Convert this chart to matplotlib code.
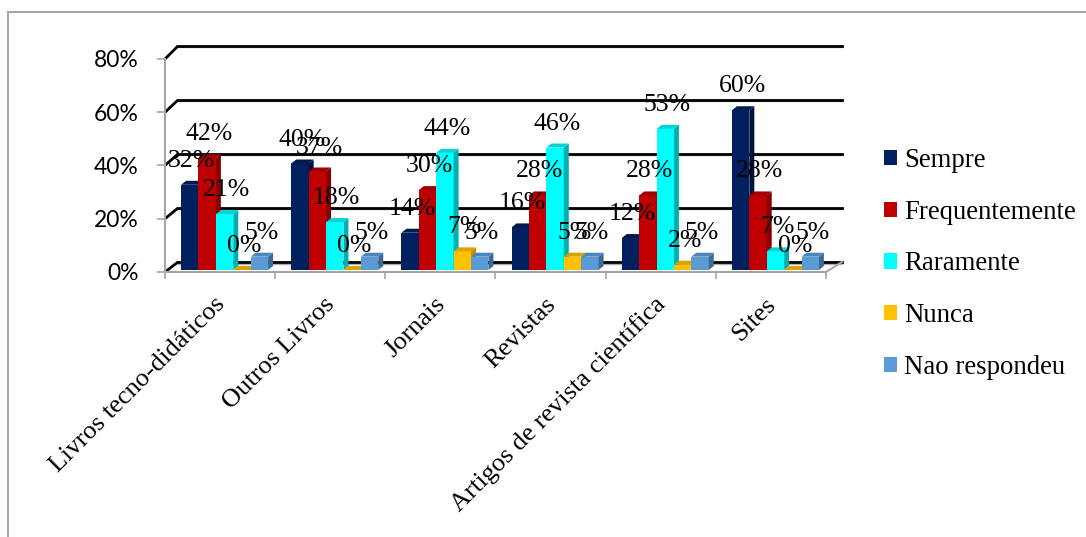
import numpy as np
from matplotlib import pyplot as plt
from matplotlib.patches import Polygon, Patch
from matplotlib.lines import Line2D

categorias = ['Livros tecno-didáticos', 'Outros Livros', 'Jornais', 'Revistas',
              'Artigos de revista científica', 'Sites']
series = ['Sempre', 'Frequentemente', 'Raramente', 'Nunca', 'Nao respondeu']
sempre = [32, 40, 14, 16, 12, 60]
frequentemente = [42, 37, 30, 28, 28, 28]
raramente = [21, 18, 44, 46, 53, 7]
nunca = [0, 0, 7, 5, 2, 0]
nao_respondeu = [5, 5, 5, 5, 5, 5]
yticks = [0, 20, 40, 60, 80]

valores = [sempre, frequentemente, raramente, nunca, nao_respondeu]
# frente, lado, topo
cores = [('#002060', '#00123c', '#001a50'),
         ('#c00000', '#870000', '#a00000'),
         ('#00ffff', '#00b0b0', '#00d4d4'),
         ('#ffc000', '#c08f00', '#d9a300'),
         ('#5b9bd5', '#3d6b96', '#4a85bc')]

fig = plt.figure(figsize=(10.86, 5.37), dpi=100)
W, H = 1086, 537
# eixo frontal: x de 165 a 826 px, 0% em y=272, 80% em y=59
ax = fig.add_axes([165 / W, (H - 272) / H, 661 / W, 213 / H])
ax.set_xlim(-0.5, 5.5)
ax.set_ylim(0, 80)

px_x = 6 / 661.0   # unidades de dados por pixel
px_y = 80 / 213.0

# parede do fundo (linhas de grade) e chao
for v in yticks:
    yb = v / 80 + (10 + v / 80 * 3) / 213
    yf = v / 80
    ax.plot([0, 13 / 661], [yf, yb], color='black', lw=2, transform=ax.transAxes,
            clip_on=False, zorder=1, solid_capstyle='butt')
    ax.plot([13 / 661, 677 / 661], [yb, yb], color='black', lw=2,
            transform=ax.transAxes, clip_on=False, zorder=1)
    ax.plot([13 / 661, 677 / 661], [yb - 1.5 / 213, yb - 1.5 / 213], color='#b0b0b0',
            lw=1, transform=ax.transAxes, clip_on=False, zorder=0.9)
ax.plot([1, 677 / 661], [0, 10 / 213], color='#a6a6a6', lw=1.5,
        transform=ax.transAxes, clip_on=False, zorder=1)

# barras 3D
larg = 17.4 * px_x
dx = 5 * px_x
dy = 4 * px_y
base = 2 * px_y
x = np.arange(len(categorias))
for j, vals in enumerate(valores):
    xs = x + (j - 2) * larg + 4.5 * px_x
    frente, lado, topo = cores[j]
    z = 2 + j
    ax.bar(xs, vals, width=larg, bottom=base, color=frente, zorder=z)
    for xc, v in zip(xs, vals):
        x0, x1 = xc - larg / 2, xc + larg / 2
        h = v + base
        ax.add_patch(Polygon([(x1, base), (x1 + dx, base + dy), (x1 + dx, h + dy), (x1, h)],
                             closed=True, facecolor=lado, edgecolor='none', zorder=z))
        ax.add_patch(Polygon([(x0, h), (x0 + dx, h + dy), (x1 + dx, h + dy), (x1, h)],
                             closed=True, facecolor=topo, edgecolor='none', zorder=z))

# rotulos de dados
for j, vals in enumerate(valores):
    xs = x + (j - 2) * larg + 4.5 * px_x
    for xc, v in zip(xs, vals):
        ax.annotate('%d%%' % v, xy=(xc, v), xytext=(1.4, 18.7), textcoords='offset points',
                    ha='center', va='center', fontsize=18.5, family='Liberation Serif',
                    color='black', zorder=20, annotation_clip=False)

# eixos
for s in ['top', 'right']:
    ax.spines[s].set_visible(False)
ax.spines['left'].set_color('#a6a6a6')
ax.spines['bottom'].set_color('#a6a6a6')
ax.spines['left'].set_linewidth(1.5)
ax.spines['bottom'].set_linewidth(1.5)
ax.set_yticks(yticks)
ax.set_yticklabels(['%d%%' % v for v in yticks], family='Lato', fontsize=16.5)
ax.tick_params(axis='y', direction='out', length=6, width=1.2, color='#a6a6a6', pad=13)
ax.set_xticks(np.arange(-0.5, 6, 1))
ax.set_xticklabels([])
ax.tick_params(axis='x', direction='out', length=5, width=1.2, color='#a6a6a6')
for i, c in enumerate(categorias):
    ax.annotate(c, xy=(i, 0), xytext=(1.0, -21), textcoords='offset points',
                ha='right', va='center', rotation=45, rotation_mode='anchor',
                fontsize=19, family='Liberation Serif', annotation_clip=False)

# legenda
handles = [Patch(facecolor=cores[j][0], edgecolor='none') for j in range(5)]
fig.legend(handles, series, loc='center left', bbox_to_anchor=(884 / W, (H - 264) / H),
           frameon=False, prop={'family': 'Liberation Serif', 'size': 19.3},
           handlelength=0.5, handleheight=0.5, handletextpad=0.25, labelspacing=1.0,
           borderpad=0, borderaxespad=0)

# moldura do grafico
fig.add_artist(Line2D([8 / W, 1], [1 - 12 / H, 1 - 12 / H], color='#a6a6a6', lw=1.5,
                      transform=fig.transFigure))
fig.add_artist(Line2D([8 / W, 8 / W], [0, 1 - 12 / H], color='#a6a6a6', lw=1.5,
                      transform=fig.transFigure))

plt.savefig('out.png', dpi=100)
